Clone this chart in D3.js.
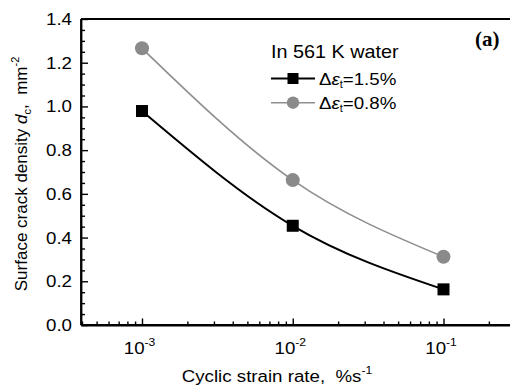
<!DOCTYPE html>
<html>
<head>
<meta charset="utf-8">
<script src="https://cdn.jsdelivr.net/npm/d3@7"></script>
<style>
  body { margin: 0; background: #fff; }
  svg { display: block; font-family: "Liberation Sans", Arial, sans-serif; }
  .wide { transform-box: fill-box; transform: scaleX(1.1); }
  .yt text { transform-origin: right center; }
  .xt text { transform-origin: center; }
</style>
</head>
<body>
<svg id="chart" width="510" height="386"></svg>
<script>
// ---- data ----
const strainRates = [1e-3, 1e-2, 1e-1];
const seriesNames = ["\u0394\u03b5t=1.5%", "\u0394\u03b5t=0.8%"];
const density15 = [0.979, 0.454, 0.163];
const density08 = [1.266, 0.663, 0.312];
const yTicks = [0.0, 0.2, 0.4, 0.6, 0.8, 1.0, 1.2, 1.4];
const xMajorTicks = [1e-3, 1e-2, 1e-1];
const xTickExponents = ["-3", "-2", "-1"];

const svg = d3.select("#chart");
const pL = 81, pR = 510, pT = 19, pB = 325;

// x: log scale, decades placed from the picture
const xs0 = d3.scaleLog().domain([1e-3, 1e-1]).range([142, 443.5]);
const x = d3.scaleLog().domain([xs0.invert(pL), xs0.invert(pR + 2)]).range([pL, pR + 2]);
const y = d3.scaleLinear().domain([0, 1.4]).range([pB, pT]);

// minor ticks
const xMinor = [];
[1e-4, 1e-3, 1e-2, 1e-1].forEach(d => {
  for (let k = 2; k <= 9; k++) {
    const v = d * k;
    if (v > x.domain()[0] && v < x.domain()[1]) xMinor.push(v);
  }
});
const yMinor = d3.range(0, 1.4001, 0.05).filter(v => Math.abs(v / 0.2 - Math.round(v / 0.2)) > 1e-6);

// frame top line
svg.append("line").attr("x1", pL).attr("x2", pR + 2).attr("y1", pT).attr("y2", pT)
  .attr("stroke", "#000").attr("stroke-width", 1.8);

// x axis
const gxMinor = svg.append("g").attr("transform", `translate(0,${pB})`)
  .call(d3.axisBottom(x).tickValues(xMinor).tickSizeInner(-3.5).tickSizeOuter(0).tickFormat(""));
const gx = svg.append("g").attr("class", "xt").attr("transform", `translate(0,${pB})`)
  .call(d3.axisBottom(x).tickValues(xMajorTicks).tickSizeInner(-6.5).tickSizeOuter(0).tickPadding(17));
gx.selectAll("text").each(function(d, i) {
  const t = d3.select(this).text(null).attr("class", "wide")
    .attr("font-size", 17).attr("fill", "#000").attr("dx", "-3");
  t.append("tspan").text("10");
  t.append("tspan").attr("font-size", 11).attr("dy", -8).text(xTickExponents[i]);
});

// y axis
const gyMinor = svg.append("g").attr("transform", `translate(${pL},0)`)
  .call(d3.axisLeft(y).tickValues(yMinor).tickSizeInner(-4).tickSizeOuter(0).tickFormat(""));
const gy = svg.append("g").attr("class", "yt").attr("transform", `translate(${pL},0)`)
  .call(d3.axisLeft(y).tickValues(yTicks).tickSizeInner(-7).tickSizeOuter(0).tickPadding(9)
    .tickFormat(d3.format(".1f")));
gy.selectAll("text").attr("class", "wide").attr("font-size", 17).attr("fill", "#000");

[gx, gxMinor, gy, gyMinor].forEach(g => {
  g.select(".domain").attr("stroke", "#000").attr("stroke-width", 1.8);
  g.selectAll(".tick line").attr("stroke", "#000").attr("stroke-width", 1.4);
});
gx.select(".domain").attr("d", `M${pL},0H${pR + 2}`);
gy.select(".domain").attr("d", `M0,${pB}V${pT}`);

// curves
const line = d3.line().x(d => x(d[0])).y(d => y(d[1])).curve(d3.curveNatural);
const d08 = strainRates.map((r, i) => [r, density08[i]]);
const d15 = strainRates.map((r, i) => [r, density15[i]]);
svg.append("path").attr("d", line(d08)).attr("fill", "none").attr("stroke", "#8e8e8e").attr("stroke-width", 1.6);
svg.append("path").attr("d", line(d15)).attr("fill", "none").attr("stroke", "#000").attr("stroke-width", 2);

svg.selectAll("circle.m").data(d08).join("circle").attr("class", "m")
  .attr("cx", d => x(d[0])).attr("cy", d => y(d[1])).attr("r", 7).attr("fill", "#8a8a8a");
svg.selectAll("rect.m").data(d15).join("rect").attr("class", "m")
  .attr("x", d => x(d[0]) - 6).attr("y", d => y(d[1]) - 6).attr("width", 12).attr("height", 12).attr("fill", "#000");

// axis titles
const xl = svg.append("text").attr("class", "wide").style("transform-origin", "center")
  .attr("x", 277).attr("y", 382).attr("text-anchor", "middle").attr("font-size", 17)
  .style("white-space", "pre");
xl.append("tspan").text("Cyclic strain rate,  %s");
xl.append("tspan").attr("font-size", 11).attr("dy", -8).text("-1");

const yl = svg.append("text").attr("transform", "translate(27,174) rotate(-90)")
  .attr("text-anchor", "middle").attr("font-size", 17).style("white-space", "pre");
yl.append("tspan").text("Surface crack density ");
yl.append("tspan").attr("font-style", "italic").text("d");
yl.append("tspan").attr("font-size", 11).attr("dy", 4).text("c");
yl.append("tspan").attr("dy", -4).text(",  mm");
yl.append("tspan").attr("font-size", 11).attr("dy", -8).text("-2");

// legend
svg.append("text").attr("class", "wide").style("transform-origin", "left")
  .attr("x", 271).attr("y", 58.5).attr("font-size", 18).text("In 561 K water");
const legRows = [
  { name: seriesNames[0], color: "#000", width: 2, y: 78.5, shape: "rect", val: "=1.5%" },
  { name: seriesNames[1], color: "#8e8e8e", width: 1.6, y: 102.7, shape: "circle", val: "=0.8%" }
];
legRows.forEach(r => {
  svg.append("line").attr("x1", 271).attr("x2", 315).attr("y1", r.y).attr("y2", r.y)
    .attr("stroke", r.color).attr("stroke-width", r.width);
  if (r.shape === "rect") {
    svg.append("rect").attr("x", 293 - 5.5).attr("y", r.y - 5.5).attr("width", 11).attr("height", 11).attr("fill", "#000");
  } else {
    svg.append("circle").attr("cx", 293).attr("cy", r.y).attr("r", 6.2).attr("fill", "#8a8a8a");
  }
  const t = svg.append("text").attr("class", "wide").style("transform-origin", "left")
    .attr("x", 319).attr("y", r.y + 6.5).attr("font-size", 17);
  t.append("tspan").text("\u0394");
  t.append("tspan").attr("font-style", "italic").text("\u03b5");
  t.append("tspan").attr("font-size", 10).attr("dy", 3).text("t");
  t.append("tspan").attr("dy", -3).text(r.val);
});

// panel label
svg.append("text").attr("x", 475).attr("y", 46).attr("font-family", "'Liberation Serif', 'Times New Roman', serif")
  .attr("font-weight", "bold").attr("font-size", 21).text("(a)");
</script>
</body>
</html>
